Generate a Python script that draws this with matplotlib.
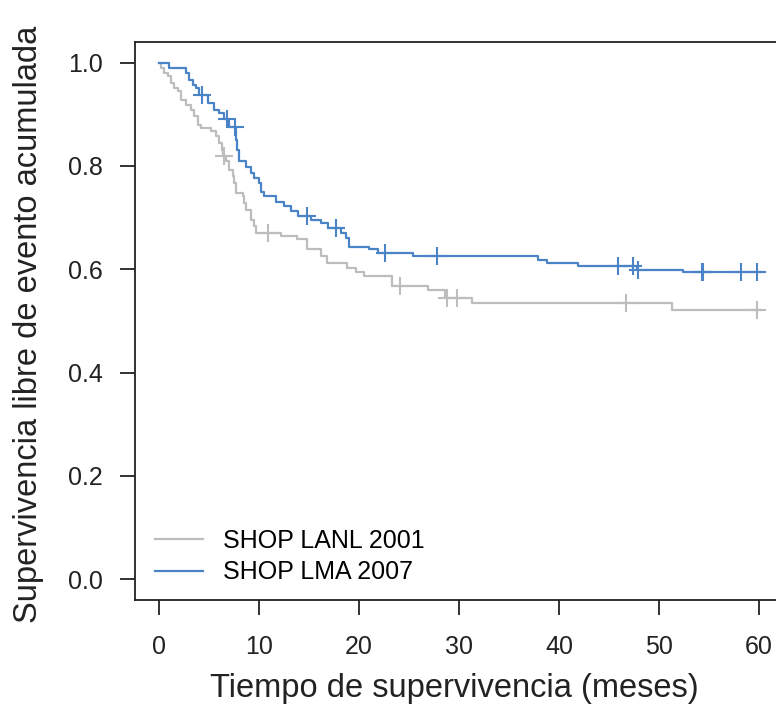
import numpy as np
import matplotlib
matplotlib.use("Agg")
import matplotlib.pyplot as plt

plt.rcParams["font.family"] = ["Liberation Sans", "DejaVu Sans"]

# Kaplan-Meier steps (time in months, survival)
lanl_times = [0, 0.2, 0.5, 0.9, 1.2, 1.5, 1.9, 2.2, 2.7, 3.2, 3.5, 3.9, 4.2, 5.2,
              5.7, 6.0, 6.3, 6.4, 6.7, 7.0, 7.4, 7.5, 7.7, 8.4, 8.5, 8.7, 9.2,
              9.5, 9.7, 12.2, 13.8, 14.8, 16.2, 16.8, 18.8, 19.7, 20.5, 23.3,
              26.9, 28.6, 31.3, 51.3]
lanl_surv = [1.0, 0.99, 0.98, 0.973, 0.961, 0.951, 0.944, 0.928, 0.918, 0.909,
             0.896, 0.88, 0.874, 0.867, 0.857, 0.845, 0.831, 0.82, 0.809, 0.793,
             0.78, 0.767, 0.748, 0.741, 0.728, 0.715, 0.696, 0.683, 0.671,
             0.665, 0.659, 0.64, 0.625, 0.612, 0.602, 0.594, 0.587, 0.568,
             0.56, 0.545, 0.534, 0.521]
lanl_censored = [6.5, 10.9, 24.1, 28.8, 29.8, 46.7, 59.8]

lma_times = [0, 1.0, 2.7, 3.0, 3.4, 3.7, 4.0, 4.9, 5.5, 6.0, 6.5, 7.0, 7.7, 7.8,
             8.0, 8.7, 9.2, 9.5, 10.0, 10.2, 10.5, 11.7, 12.5, 13.2, 13.9, 15.2,
             16.2, 16.9, 18.2, 18.7, 19.0, 21.0, 21.9, 25.4, 37.9, 38.8, 41.9,
             47.8, 52.4]
lma_surv = [1.0, 0.99, 0.98, 0.967, 0.957, 0.95, 0.938, 0.922, 0.909, 0.903,
            0.89, 0.876, 0.85, 0.83, 0.81, 0.797, 0.787, 0.777, 0.767, 0.75,
            0.741, 0.731, 0.722, 0.712, 0.704, 0.696, 0.69, 0.68, 0.67, 0.66,
            0.644, 0.64, 0.632, 0.626, 0.618, 0.612, 0.607, 0.599, 0.595]
lma_censored = [4.3, 6.8, 7.6, 14.8, 17.7, 22.6, 27.8, 45.9, 47.4, 47.9, 54.3,
                54.4, 58.2, 59.8]

follow_up_end = 60.2
group_labels = ["SHOP LANL 2001", "SHOP LMA 2007"]
x_ticks = [0, 10, 20, 30, 40, 50, 60]
y_ticks = [0.0, 0.2, 0.4, 0.6, 0.8, 1.0]

colors = ["#BDBDBD", "#4A84C6"]
text_color = "#222222"

fig = plt.figure(figsize=(7.76, 7.22), dpi=100)
ax = fig.add_axes([0.174, 0.169, 0.835, 0.773])


def draw_curve(times, surv, censored, color, label):
    t = np.append(times, follow_up_end)
    s = np.append(surv, surv[-1])
    ax.step(t, s, where="post", color=color, lw=1.6, label=label)
    idx = np.searchsorted(times, censored, side="right") - 1
    cs = np.array(surv)[idx]
    ax.plot(censored, cs, ls="none", marker="+", ms=13, mew=1.5, color=color)


draw_curve(lanl_times, lanl_surv, lanl_censored, colors[0], group_labels[0])
draw_curve(lma_times, lma_surv, lma_censored, colors[1], group_labels[1])

ax.set_xlim(-2.4, 62.4)
ax.set_ylim(-0.04, 1.04)
ax.set_xticks(x_ticks)
ax.set_xticklabels([str(v) for v in x_ticks])
ax.set_yticks(y_ticks)
ax.set_yticklabels([f"{v:.1f}" for v in y_ticks])
ax.tick_params(length=11, width=1.3, labelsize=18, colors=text_color)
ax.tick_params(axis="x", pad=14)
ax.tick_params(axis="y", pad=12)
for sp in ax.spines.values():
    sp.set_linewidth(1.3)
    sp.set_color(text_color)

ax.set_xlabel("Tiempo de supervivencia (meses)", fontsize=23.5, color=text_color)
ax.set_ylabel("Supervivencia libre de evento acumulada", fontsize=23.5, color=text_color)
ax.xaxis.set_label_coords(0.493, -0.13)
ax.yaxis.set_label_coords(-0.14, 0.493)

ax.legend(loc="lower left", bbox_to_anchor=(0.031, 0.028), frameon=False,
          fontsize=18, handlelength=1.9, handletextpad=0.8, labelspacing=0.3,
          borderpad=0, borderaxespad=0)

fig.savefig("out.png", dpi=100)
